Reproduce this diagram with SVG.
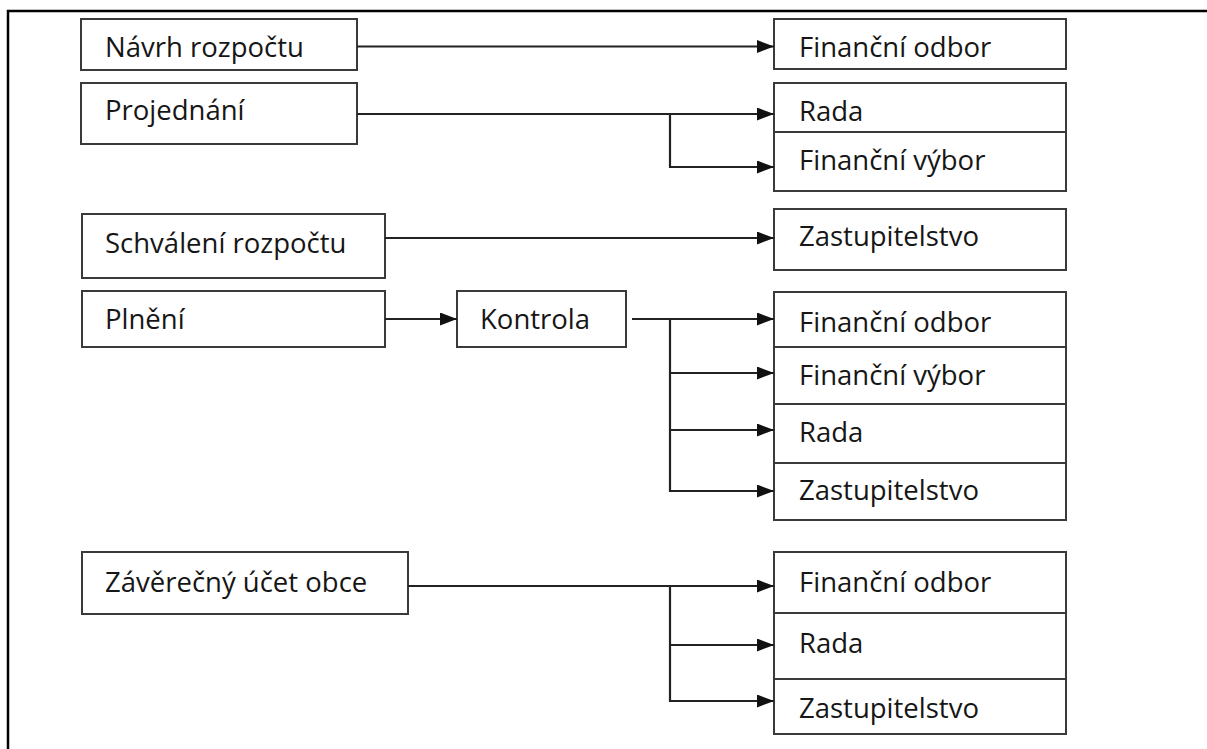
<svg xmlns="http://www.w3.org/2000/svg" width="1207" height="749" viewBox="0 0 1207 749">
<style>
.box{fill:#fff;stroke:#3a3a3a;stroke-width:2}
.lbl{font-family:"Open Sans","Noto Sans","DejaVu Sans",sans-serif;font-size:27.5px;fill:#161616}
.con{fill:none;stroke:#222;stroke-width:2.2}
</style>
<defs>
<marker id="arr" markerUnits="userSpaceOnUse" markerWidth="18" markerHeight="14" refX="17" refY="6.5" orient="auto">
<path d="M0,0 L17,6.5 L0,13 z" fill="#111"/>
</marker>
</defs>
<rect width="1207" height="749" fill="#fff"/>
<path d="M8,749 V11 H1207" fill="none" stroke="#000" stroke-width="2.5"/>

<g id="n_navrh"><rect class="box" x="81" y="19" width="276" height="51"/><text class="lbl" x="105" y="57">Návrh rozpočtu</text></g>
<g id="n_projednani"><rect class="box" x="81" y="83" width="276" height="61"/><text class="lbl" x="105" y="120">Projednání</text></g>
<g id="n_fo1"><rect class="box" x="774" y="19" width="292" height="50"/><text class="lbl" x="799" y="57">Finanční odbor</text></g>
<g id="n_rada1"><rect class="box" x="774" y="83" width="292" height="49"/><text class="lbl" x="799" y="121">Rada</text></g>
<g id="n_fv1"><rect class="box" x="774" y="132" width="292" height="59"/><text class="lbl" x="799" y="170">Finanční výbor</text></g>

<g id="n_schvaleni"><rect class="box" x="82" y="214" width="303" height="64"/><text class="lbl" x="105" y="253">Schválení rozpočtu</text></g>
<g id="n_zast1"><rect class="box" x="774" y="209" width="292" height="61"/><text class="lbl" x="799" y="246">Zastupitelstvo</text></g>

<g id="n_plneni"><rect class="box" x="82" y="291" width="303" height="56"/><text class="lbl" x="105" y="329">Plnění</text></g>
<g id="n_kontrola"><rect class="box" x="457" y="291" width="169" height="56"/><text class="lbl" x="480" y="329">Kontrola</text></g>
<g id="n_fo2"><rect class="box" x="774" y="292" width="292" height="55"/><text class="lbl" x="799" y="332">Finanční odbor</text></g>
<g id="n_fv2"><rect class="box" x="774" y="347" width="292" height="57"/><text class="lbl" x="799" y="385">Finanční výbor</text></g>
<g id="n_rada2"><rect class="box" x="774" y="404" width="292" height="59"/><text class="lbl" x="799" y="442">Rada</text></g>
<g id="n_zast2"><rect class="box" x="774" y="463" width="292" height="57"/><text class="lbl" x="799" y="500">Zastupitelstvo</text></g>

<g id="n_zaverecny"><rect class="box" x="82" y="552" width="326" height="62"/><text class="lbl" x="105" y="592">Závěrečný účet obce</text></g>
<g id="n_fo3"><rect class="box" x="774" y="552" width="292" height="61"/><text class="lbl" x="799" y="592">Finanční odbor</text></g>
<g id="n_rada3"><rect class="box" x="774" y="613" width="292" height="66"/><text class="lbl" x="799" y="653">Rada</text></g>
<g id="n_zast3"><rect class="box" x="774" y="679" width="292" height="55"/><text class="lbl" x="799" y="718">Zastupitelstvo</text></g>

<g id="connectors" class="con">
<path d="M357,46.5 H774" marker-end="url(#arr)"/>
<path d="M357,114 H774" marker-end="url(#arr)"/>
<path d="M670,114 V167 H774" marker-end="url(#arr)"/>
<path d="M385,238 H774" marker-end="url(#arr)"/>
<path d="M385,319 H457" marker-end="url(#arr)"/>
<path d="M632,319 H774" marker-end="url(#arr)"/>
<path d="M670,319 V491 H774" marker-end="url(#arr)"/>
<path d="M670,373 H774" marker-end="url(#arr)"/>
<path d="M670,430 H774" marker-end="url(#arr)"/>
<path d="M408,586 H774" marker-end="url(#arr)"/>
<path d="M670,586 V701 H774" marker-end="url(#arr)"/>
<path d="M670,645 H774" marker-end="url(#arr)"/>
</g>
</svg>
